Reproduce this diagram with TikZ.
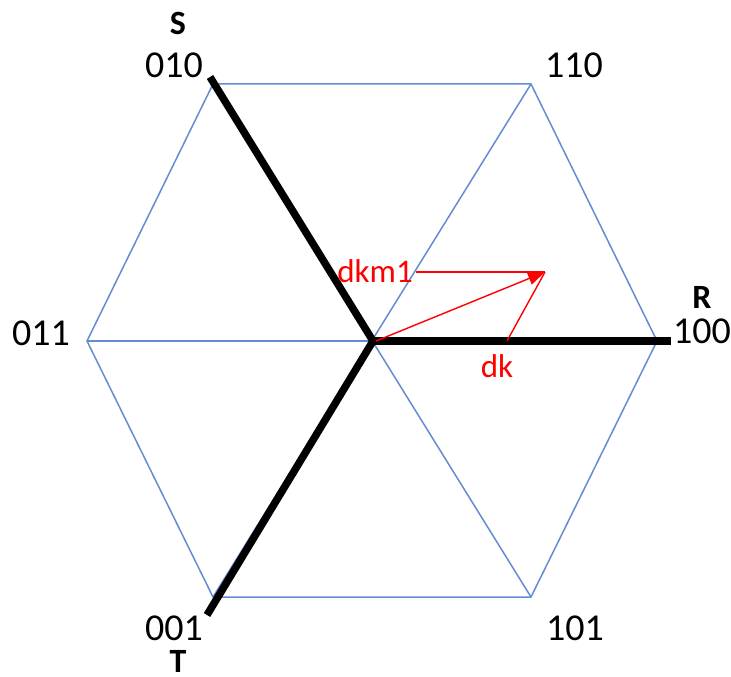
\documentclass[tikz,border=0pt]{standalone}
\usepackage{fontspec}
\setmainfont{Carlito}
\usetikzlibrary{arrows.meta}
\definecolor{hexblue}{RGB}{100,140,210}
\begin{document}
\begin{tikzpicture}[x=1pt,y=-1pt,
  hexline/.style={draw=hexblue,line width=1.5pt},
  axisline/.style={draw=black,line width=7.5pt,line cap=butt},
  vlabel/.style={inner sep=0pt,font=\fontsize{38}{44}\selectfont},
  alabel/.style={inner sep=0pt,font=\fontsize{34}{40}\selectfont\bfseries},
  redlabel/.style={inner sep=0pt,text=red,font=\fontsize{33}{38}\selectfont},
  redline/.style={draw=red,line width=1.4pt}]
\useasboundingbox (0,0) rectangle (731,677);
% hexagon vertices
\coordinate (A) at (87,341);
\coordinate (B) at (213,84);
\coordinate (C) at (531,84);
\coordinate (D) at (657,341);
\coordinate (E) at (531,597);
\coordinate (F) at (213,597);
\coordinate (O) at (373,341);
\draw[hexline,line join=miter] (A) -- (B) -- (C) -- (D) -- (E) -- (F) -- cycle;
\draw[hexline] (A) -- (D);
\draw[hexline] (B) -- (E);
\draw[hexline] (C) -- (F);
% axes
\coordinate (Send) at (210,77);
\coordinate (Rend) at (671,341);
\coordinate (Tend) at (207,615);
\draw[axisline] (O) -- (Send);
\draw[axisline] (O) -- (Rend);
\draw[axisline] (O) -- (Tend);
% vertex labels
\node[vlabel] (l010) at (174,65) {010};
\node[vlabel] (l110) at (574,65) {110};
\node[vlabel] (l100) at (702,331) {100};
\node[vlabel] (l011) at (41,333) {011};
\node[vlabel] (l001) at (174,628) {001};
\node[vlabel] (l101) at (575,628) {101};
\node[alabel] (lS) at (178,23) {S};
\node[alabel] (lR) at (702,297) {R};
\node[alabel] (lT) at (178,661) {T};
% red vectors
\coordinate (P) at (545,272);
\coordinate (Q) at (507,341);
\node[redlabel,anchor=east] (dkm) at (413,271) {dkm1};
\node[redlabel] (dk) at (497,366) {dk};
\draw[redline] ([xshift=3pt]dkm.east |- P) -- (P);
\draw[redline,-{Triangle[length=17pt,width=13pt]}] ([xshift=3pt]O) -- (P);
\draw[redline] (Q) -- (P);
\end{tikzpicture}
\end{document}
